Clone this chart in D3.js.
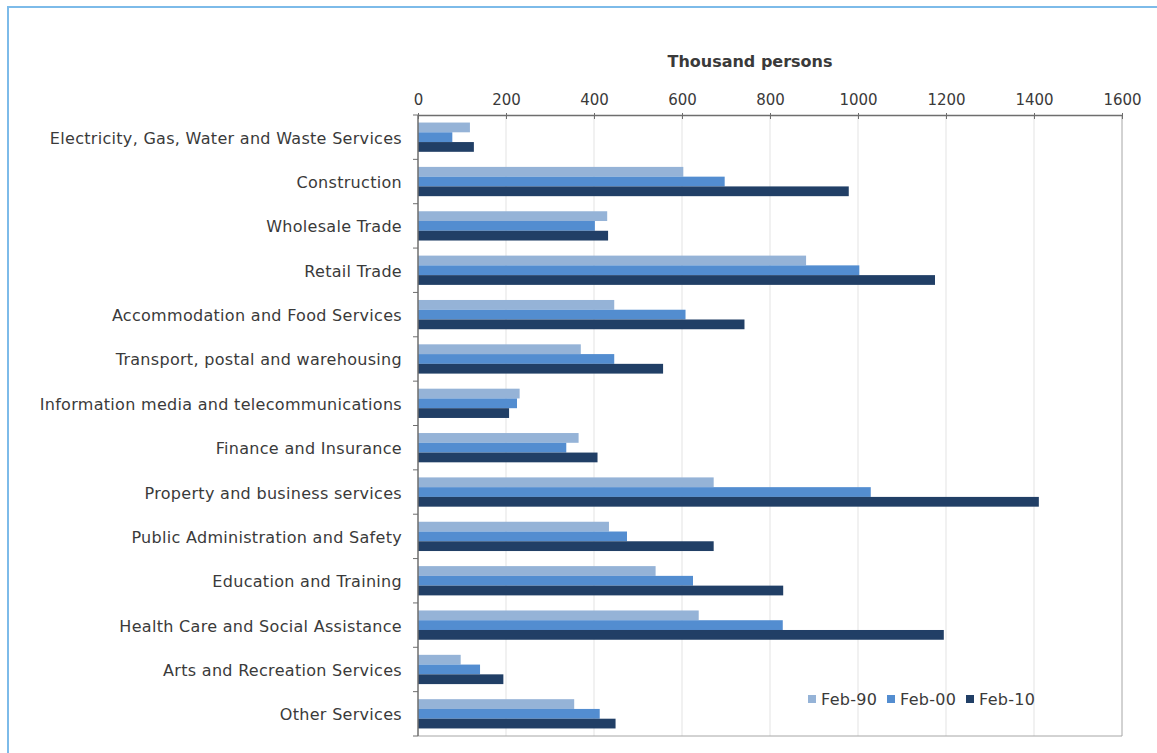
<!DOCTYPE html>
<html>
<head>
<meta charset="utf-8">
<script src="https://cdn.jsdelivr.net/npm/d3@7"></script>
<style>
  html, body { margin: 0; padding: 0; background: #fff; }
  svg { display: block; }
  text { font-family: "DejaVu Sans", sans-serif; fill: #3a3a3a; }
</style>
</head>
<body>
<svg id="chart" width="1157" height="753"></svg>
<script>
const categories = [
  "Electricity, Gas, Water and Waste Services",
  "Construction",
  "Wholesale Trade",
  "Retail Trade",
  "Accommodation and Food Services",
  "Transport, postal and warehousing",
  "Information media and telecommunications",
  "Finance and Insurance",
  "Property and business services",
  "Public Administration and Safety",
  "Education and Training",
  "Health Care and Social Assistance",
  "Arts and Recreation Services",
  "Other Services"
];
const seriesNames = ["Feb-90", "Feb-00", "Feb-10"];
const feb90 = [118, 603, 430, 882, 446, 370, 231, 365, 672, 434, 540, 638, 97, 355];
const feb00 = [78, 697, 402, 1003, 608, 446, 225, 337, 1029, 475, 625, 829, 141, 413];
const feb10 = [127, 979, 432, 1175, 742, 557, 207, 408, 1411, 672, 830, 1195, 194, 449];
const xTicks = [0, 200, 400, 600, 800, 1000, 1200, 1400, 1600];
const axisTitle = "Thousand persons";
const colors = ["#95b3d7", "#538dd0", "#213f66"];

const svg = d3.select("#chart");
const W = 1157, H = 753;
const m = { left: 418, right: 1122, top: 115, bottom: 736 };

// outer frame
svg.append("rect")
  .attr("x", 8).attr("y", 7)
  .attr("width", W + 20).attr("height", H + 20)
  .attr("fill", "none").attr("stroke", "#7dbbe9").attr("stroke-width", 2);

const x = d3.scaleLinear().domain([0, 1600]).range([m.left, m.right]);
const y = d3.scaleBand().domain(categories).range([m.top, m.bottom]).paddingInner(0.34).paddingOuter(0.17);
const inner = d3.scaleBand().domain(seriesNames).range([0, y.bandwidth()]);

// gridlines
svg.append("g").selectAll("line").data(xTicks.slice(1)).join("line")
  .attr("x1", d => x(d)).attr("x2", d => x(d))
  .attr("y1", m.top).attr("y2", m.bottom)
  .attr("stroke", d => d === 1600 ? "#a6a6a6" : "#e3e3e3").attr("stroke-width", 1);

// bottom border
svg.append("line")
  .attr("x1", m.left).attr("x2", m.right)
  .attr("y1", m.bottom).attr("y2", m.bottom)
  .attr("stroke", "#a6a6a6");

// bars
const data = categories.map((c, i) => ({ c, vals: [feb90[i], feb00[i], feb10[i]] }));
const groups = svg.append("g").selectAll("g").data(data).join("g")
  .attr("transform", d => `translate(0,${y(d.c)})`);
groups.selectAll("rect").data(d => d.vals.map((v, k) => ({ v, k }))).join("rect")
  .attr("x", x(0))
  .attr("y", d => inner(seriesNames[d.k]))
  .attr("width", d => x(d.v) - x(0))
  .attr("height", inner.bandwidth())
  .attr("fill", d => colors[d.k]);

// top axis
const xAxis = d3.axisTop(x).tickValues(xTicks).tickFormat(d3.format("d")).tickSize(-4).tickSizeOuter(0).tickPadding(10);
const gx = svg.append("g").attr("transform", `translate(0,${m.top})`).call(xAxis);
gx.select(".domain").attr("stroke", "#6e6e6e").attr("stroke-width", 1.5);
gx.selectAll(".tick line").attr("stroke", "#6e6e6e").attr("y1", -2).attr("y2", 4);
gx.selectAll(".tick text").attr("font-size", 15).attr("font-family", "DejaVu Sans").attr("fill", "#3a3a3a").attr("dy", "0");

// left axis with category boundary ticks
const yLeft = svg.append("g");
yLeft.append("line").attr("x1", m.left).attr("x2", m.left).attr("y1", m.top).attr("y2", m.bottom)
  .attr("stroke", "#6e6e6e").attr("stroke-width", 1.5);
const bounds = d3.range(categories.length + 1).map(i => m.top + i * (m.bottom - m.top) / categories.length);
yLeft.selectAll("line.t").data(bounds).join("line").attr("class", "t")
  .attr("x1", m.left - 5).attr("x2", m.left)
  .attr("y1", d => d).attr("y2", d => d)
  .attr("stroke", "#6e6e6e");

// category labels
svg.append("g").selectAll("text").data(categories).join("text")
  .attr("x", 402)
  .attr("y", (d, i) => (bounds[i] + bounds[i + 1]) / 2 + 2)
  .attr("text-anchor", "end")
  .attr("dominant-baseline", "middle")
  .attr("font-size", 16)
  .attr("letter-spacing", 0.3)
  .text(d => d);

// axis title
svg.append("text")
  .attr("x", 750).attr("y", 67)
  .attr("text-anchor", "middle")
  .attr("font-size", 16).attr("font-weight", "bold")
  .attr("fill", "#262626")
  .text(axisTitle);

// legend
const legendX = [808, 887, 966];
const lg = svg.append("g").selectAll("g").data(seriesNames).join("g")
  .attr("transform", (d, i) => `translate(${legendX[i]},699)`);
lg.append("rect").attr("x", 0).attr("y", -4).attr("width", 8).attr("height", 8)
  .attr("fill", (d, i) => colors[i]);
lg.append("text").attr("x", 13).attr("y", 1).attr("dominant-baseline", "middle")
  .attr("font-size", 16).attr("letter-spacing", 0.3).text(d => d);
</script>
</body>
</html>
